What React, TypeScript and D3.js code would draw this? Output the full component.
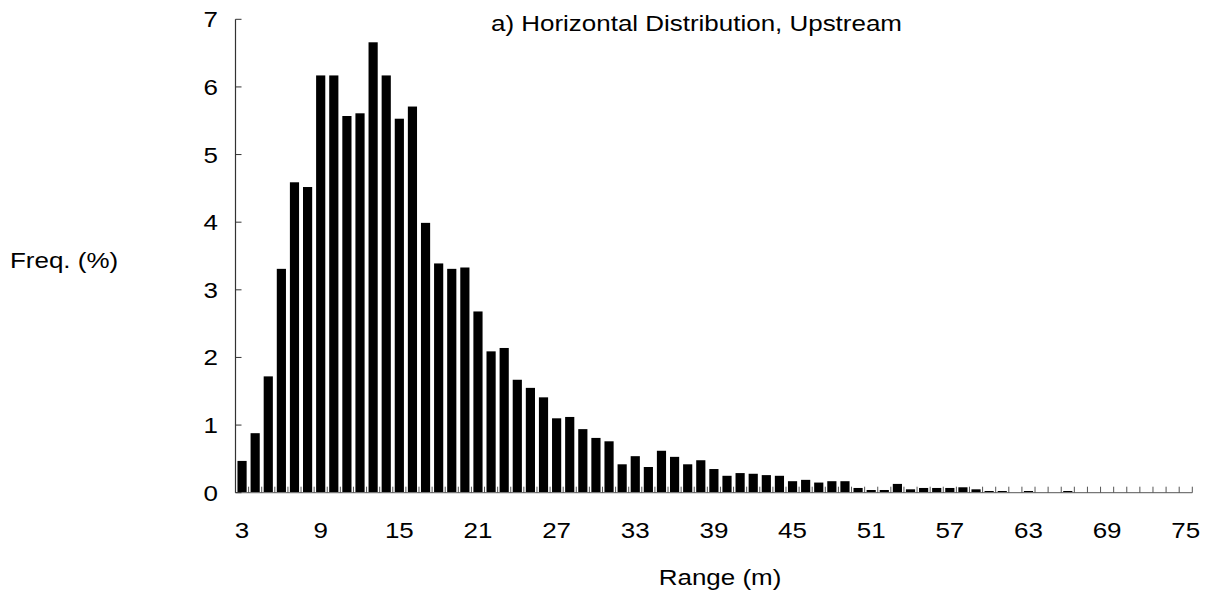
import React from 'react';
import * as d3 from 'd3';

// range bins (m) and frequency (%)
const ranges = d3.range(3, 76);
const freq = [
  0.47, 0.88, 1.72, 3.31, 4.59, 4.52, 6.17, 6.17, 5.57, 5.61,
  6.66, 6.17, 5.53, 5.71, 3.99, 3.39, 3.31, 3.33, 2.68, 2.09,
  2.14, 1.67, 1.55, 1.41, 1.10, 1.12, 0.94, 0.81, 0.76, 0.42,
  0.54, 0.38, 0.62, 0.53, 0.42, 0.48, 0.35, 0.25, 0.29, 0.28,
  0.26, 0.25, 0.17, 0.19, 0.15, 0.17, 0.17, 0.07, 0.04, 0.04,
  0.13, 0.05, 0.07, 0.07, 0.07, 0.08, 0.05, 0.025, 0.025, 0,
  0.025, 0, 0, 0.025, 0, 0, 0, 0, 0, 0,
  0, 0, 0,
];
const xLabels = [3, 9, 15, 21, 27, 33, 39, 45, 51, 57, 63, 69, 75];
const yTicks = [0, 1, 2, 3, 4, 5, 6, 7];

const W = 1214;
const H = 596;
const left = 235.5, right = 1192.3, top = 19.3, bottom = 492.7;
const font = '"Liberation Sans", Arial, sans-serif';
const fs = 22;
const sx = 1.18; // the original image is stretched sideways

// text drawn with a horizontal stretch, anchored at (x, y)
function Label({ x, y, anchor = 'start', children }: { x: number; y: number; anchor?: string; children: React.ReactNode }) {
  return (
    <text transform={`translate(${x},${y}) scale(${sx},1)`} fontSize={fs}
      textAnchor={anchor} fill="#000">{children}</text>
  );
}

export default function App() {
  const x = d3.scaleBand<number>()
    .domain(ranges)
    .range([left, right])
    .paddingInner(0.3)
    .paddingOuter(0.15);
  const y = d3.scaleLinear().domain([0, 7]).range([bottom, top]);
  const step = x.step();

  return (
    <svg width={W} height={H} style={{ position: 'absolute', left: 0, top: 0, background: '#fff' }}
      fontFamily={font}>
      {/* bars */}
      {ranges.map((r, i) => freq[i] > 0 && (
        <rect key={r} x={x(r)} y={y(freq[i])} width={x.bandwidth()}
          height={bottom - y(freq[i])} fill="#000" />
      ))}

      {/* x axis with category ticks pointing up */}
      <line x1={left} x2={right} y1={bottom} y2={bottom} stroke="#777" strokeWidth={1.2} />
      {ranges.map((r, i) => (
        <line key={'t' + r} x1={left + step * (i + 1)} x2={left + step * (i + 1)}
          y1={bottom} y2={bottom - 6} stroke="#555" strokeWidth={1} />
      ))}
      {xLabels.map(v => (
        <Label key={'xl' + v} x={(x(v) ?? 0) + x.bandwidth() / 2} y={538} anchor="middle">{v}</Label>
      ))}

      {/* y axis */}
      <line x1={left} x2={left} y1={top} y2={bottom} stroke="#333" strokeWidth={1.2} />
      {yTicks.map(t => (
        <g key={'y' + t}>
          <line x1={left} x2={left + 6} y1={y(t)} y2={y(t)} stroke="#333" strokeWidth={1} />
          <Label x={218} y={y(t) + 8} anchor="end">{t}</Label>
        </g>
      ))}

      <Label x={10} y={268}>Freq. (%)</Label>
      <Label x={720} y={585} anchor="middle">Range (m)</Label>
      <Label x={491} y={31}>a) Horizontal Distribution, Upstream</Label>
    </svg>
  );
}
